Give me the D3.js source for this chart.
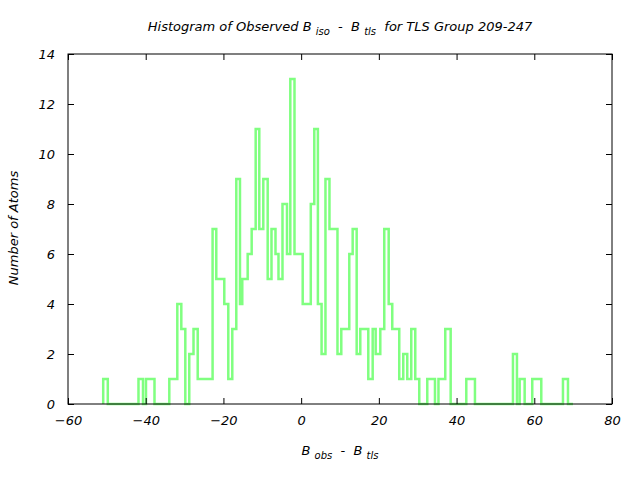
<!DOCTYPE html>
<html><head><meta charset="utf-8">
<script src="https://cdn.jsdelivr.net/npm/d3@7"></script>
<style>
body{margin:0;background:#fff}
text{font-family:"DejaVu Sans",sans-serif;font-style:italic;fill:#000;white-space:pre}
</style>
</head><body>
<svg id="chart" width="640" height="480"></svg>
<script>
// Left edge of each step (B_obs - B_tls) and the atom count on that step
const binEdges = [-50.94,-49.76,-41.86,-40.70,-39.93,-37.74,-33.93,-31.87,-30.84,-29.81,-28.79,-27.70,-26.62,
  -22.79,-21.84,-19.78,-18.75,-17.72,-16.69,-15.74,-15.15,-13.76,-12.73,-11.70,-10.77,-9.74,-8.61,-7.63,
  -6.60,-5.83,-4.80,-3.64,-2.79,-1.71,0.40,2.48,3.38,4.31,5.26,6.26,7.29,9.35,10.33,12.39,13.26,14.29,
  15.22,17.28,18.41,19.18,20.37,21.39,22.53,23.45,25.25,26.28,27.31,28.34,29.37,30.40,32.46,34.44,35.34,
  37.09,38.48,42.50,44.73,54.51,55.54,56.24,57.52,59.48,61.80,67.38,68.67];
const counts = [1,0,1,0,1,0,1,4,3,0,2,3,1,
  7,5,4,1,3,9,4,5,6,7,11,7,9,5,7,
  6,5,8,6,13,6,4,8,11,4,2,9,7,2,3,6,7,2,
  3,1,3,2,3,7,4,3,1,2,1,3,1,0,1,0,1,
  3,0,1,0,2,0,1,0,1,0,1,0];
const xEnd = 69.95;
const xTickValues = [-60,-40,-20,0,20,40,60,80];
const yTickValues = [0,2,4,6,8,10,12,14];

const W = 640, H = 480;
const m = {left:68, right:28, top:54, bottom:76};
const svg = d3.select("#chart");
const x = d3.scaleLinear().domain([-60,80]).range([m.left, W-m.right]);
const y = d3.scaleLinear().domain([0,14]).range([H-m.bottom, m.top]);

// step line
const pts = [[binEdges[0],0]].concat(binEdges.map((e,i)=>[e,counts[i]])).concat([[xEnd,0]]);
const line = d3.line().x(d=>x(d[0])).y(d=>y(d[1])).curve(d3.curveStepAfter);
svg.append("path").datum(pts).attr("d",line)
  .attr("fill","none").attr("stroke","#80ff80").attr("stroke-width",2.5)
  .attr("stroke-linejoin","miter");

// axes (ticks inward, mirrored)
const fs = 13;
const gx = svg.append("g").attr("transform",`translate(0,${H-m.bottom})`)
  .call(d3.axisBottom(x).tickValues(xTickValues).tickSize(-6).tickPadding(12).tickFormat(d3.format("d")));
const gxt = svg.append("g").attr("transform",`translate(0,${m.top})`)
  .call(d3.axisTop(x).tickValues(xTickValues).tickSize(-6).tickFormat(""));
const gy = svg.append("g").attr("transform",`translate(${m.left},0)`)
  .call(d3.axisLeft(y).tickValues(yTickValues).tickSize(-6).tickPadding(13).tickFormat(d3.format("d")));
const gyr = svg.append("g").attr("transform",`translate(${W-m.right},0)`)
  .call(d3.axisRight(y).tickValues(yTickValues).tickSize(-6).tickFormat(""));
[gx,gxt,gy,gyr].forEach(g=>{
  g.select(".domain").remove();
  g.selectAll(".tick line").attr("stroke","#000").attr("stroke-width",1);
  g.selectAll("text").attr("font-size",fs).attr("font-family","DejaVu Sans").attr("font-style","italic");
});
gy.selectAll(".tick text").attr("dy","0.35em");

svg.append("rect").attr("x",m.left).attr("y",m.top)
  .attr("width",W-m.left-m.right).attr("height",H-m.top-m.bottom)
  .attr("fill","none").attr("stroke","#000").attr("stroke-width",1);

// title
const t = svg.append("text").attr("x",(m.left+W-m.right)/2).attr("y",31)
  .attr("text-anchor","middle").attr("font-size",fs);
t.append("tspan").text("Histogram of Observed B ");
t.append("tspan").attr("dy",4).attr("font-size",10).text("iso");
t.append("tspan").attr("dy",-4).text("  -  B ");
t.append("tspan").attr("dy",4).attr("font-size",10).text("tls");
t.append("tspan").attr("dy",-4).text("  for TLS Group 209-247");

// x label
const xl = svg.append("text").attr("x",(m.left+W-m.right)/2).attr("y",455)
  .attr("text-anchor","middle").attr("font-size",fs);
xl.append("tspan").text("B ");
xl.append("tspan").attr("dy",4).attr("font-size",10).text("obs");
xl.append("tspan").attr("dy",-4).text("  -  B ");
xl.append("tspan").attr("dy",4).attr("font-size",10).text("tls");

// y label
svg.append("text").attr("transform","translate(18,228) rotate(-90)")
  .attr("text-anchor","middle").attr("font-size",fs).text("Number of Atoms");
</script>
</body></html>
